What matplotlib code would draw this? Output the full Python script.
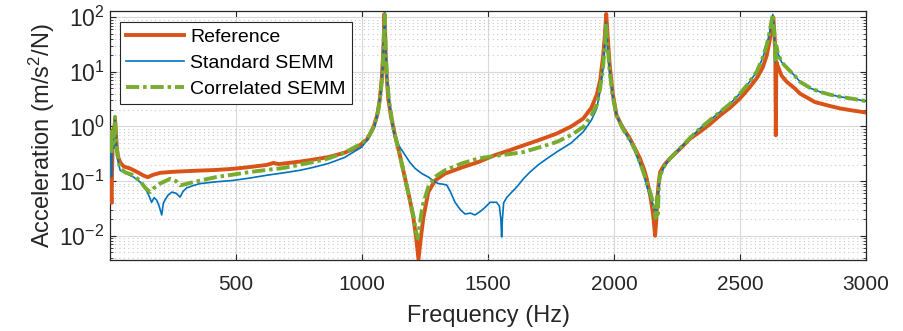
import matplotlib
matplotlib.use("Agg")
import matplotlib.pyplot as plt
from matplotlib.ticker import LogLocator, NullFormatter, FixedLocator

plt.rcParams['font.family'] = ['Liberation Sans', 'DejaVu Sans']
plt.rcParams['mathtext.fontset'] = 'custom'
plt.rcParams['mathtext.rm'] = 'Liberation Sans'
plt.rcParams['mathtext.it'] = 'Liberation Sans:italic'
plt.rcParams['mathtext.bf'] = 'Liberation Sans:bold'

# ---- measured FRF: Reference ----
freq_ref = [2, 4, 6, 8, 11, 14, 17, 20, 23, 27, 32, 40, 55, 80, 110, 135, 150, 170,
            200, 250, 300, 357, 420, 488, 550, 622, 648, 670, 754, 800, 866, 930, 980,
            1020, 1045, 1060, 1070, 1078, 1083, 1087, 1089, 1091, 1094, 1098, 1104,
            1115, 1131, 1150, 1171, 1190, 1204, 1215, 1224, 1232, 1243, 1263, 1290,
            1329, 1395, 1462, 1528, 1580, 1640, 1700, 1772, 1830, 1878, 1910, 1931,
            1945, 1957, 1964, 1969, 1974, 1983, 1995, 2010, 2035, 2063, 2085, 2103,
            2120, 2130, 2145, 2155, 2163, 2168, 2172, 2178, 2183, 2200, 2222, 2262,
            2302, 2341, 2380, 2421, 2460, 2500, 2535, 2566, 2590, 2606, 2618, 2627,
            2632, 2636, 2640, 2642, 2644, 2652, 2665, 2685, 2717, 2738, 2797, 2860,
            2897, 2950, 3000]
acc_ref = [0.22, 0.06, 0.04, 0.15, 0.55, 0.9, 0.8, 1.35, 0.8, 0.4, 0.28, 0.22, 0.185,
           0.17, 0.145, 0.125, 0.118, 0.13, 0.142, 0.148, 0.152, 0.156, 0.16, 0.168,
           0.18, 0.198, 0.215, 0.205, 0.228, 0.245, 0.275, 0.33, 0.41, 0.58, 0.95,
           1.6, 3.0, 7.0, 18, 50, 115, 60, 20, 8, 3.3, 1.5, 0.69, 0.3, 0.111, 0.045,
           0.021, 0.009, 0.0037, 0.008, 0.021, 0.063, 0.103, 0.137, 0.177, 0.224,
           0.30, 0.36, 0.45, 0.56, 0.74, 1.0, 1.4, 2.2, 3.75, 7.0, 20, 50, 115, 50,
           13, 4.0, 1.6, 0.95, 0.6, 0.38, 0.26, 0.16, 0.11, 0.05, 0.025, 0.01, 0.02,
           0.05, 0.1, 0.147, 0.2, 0.26, 0.39, 0.6, 0.8, 1.1, 1.6, 2.2, 3.26, 5.0,
           7.6, 12, 20, 38, 75, 100, 55, 25, 0.69, 15.3, 12, 8.5, 6.6, 5.0, 4.0, 2.8,
           2.35, 2.14, 1.95, 1.8]

# ---- Standard SEMM ----
freq_std = [2, 4, 6, 9, 12, 15, 18, 20, 22, 25, 30, 35, 40, 60, 93, 115, 132, 150,
            165, 175, 185, 195, 205, 212, 218, 230, 245, 262, 278, 290, 304, 330, 357,
            420, 488, 550, 622, 690, 754, 810, 866, 930, 999, 1030, 1050, 1065, 1075,
            1081, 1085, 1088, 1090, 1092, 1095, 1100, 1108, 1118, 1131, 1150, 1171,
            1190, 1211, 1240, 1263, 1285, 1303, 1320, 1336, 1350, 1369, 1390, 1409,
            1430, 1448, 1470, 1488, 1508, 1534, 1545, 1551, 1554, 1557, 1562, 1574,
            1590, 1614, 1640, 1667, 1700, 1740, 1772, 1830, 1878, 1910, 1931, 1945,
            1957, 1964, 1968, 1972, 1983, 1995, 2010, 2035, 2063, 2085, 2103, 2116,
            2130, 2145, 2160, 2167, 2175, 2183, 2200, 2222, 2262, 2302, 2341, 2380,
            2421, 2460, 2500, 2535, 2566, 2590, 2606, 2618, 2625, 2630, 2634, 2638,
            2641, 2644, 2650, 2665, 2685, 2717, 2738, 2780, 2817, 2860, 2897, 2950,
            3000]
acc_std = [0.8, 0.3, 0.12, 0.5, 0.7, 0.4, 0.9, 1.3, 0.7, 0.4, 0.25, 0.2, 0.158,
           0.14, 0.119, 0.1, 0.085, 0.06, 0.041, 0.05, 0.045, 0.035, 0.024, 0.04,
           0.045, 0.055, 0.063, 0.06, 0.051, 0.065, 0.075, 0.083, 0.09, 0.097, 0.103,
           0.113, 0.128, 0.142, 0.158, 0.18, 0.21, 0.27, 0.42, 0.65, 1.0, 2.0, 4.5,
           10, 25, 70, 120, 55, 20, 7.0, 3.0, 1.2, 0.6, 0.42, 0.30, 0.22, 0.17,
           0.135, 0.119, 0.1, 0.09, 0.088, 0.085, 0.065, 0.041, 0.03, 0.025, 0.026,
           0.024, 0.028, 0.033, 0.041, 0.041, 0.035, 0.02, 0.0095, 0.02, 0.04, 0.05,
           0.06, 0.078, 0.11, 0.147, 0.2, 0.27, 0.34, 0.5, 0.8, 1.3, 2.1, 4.5, 12,
           35, 80, 40, 10, 3.5, 1.6, 0.9, 0.55, 0.33, 0.2, 0.14, 0.08, 0.05, 0.03,
           0.025, 0.06, 0.12, 0.19, 0.26, 0.4, 0.62, 0.92, 1.3, 1.85, 2.6, 4.0, 6.3,
           10, 18, 31, 55, 85, 113, 70, 30, 15, 30, 22, 15, 12, 8.5, 6.6, 5.0, 4.3,
           3.8, 3.5, 3.2, 2.9]

# ---- Correlated SEMM ----
freq_cor = [2, 4, 6, 9, 12, 15, 18, 20, 22, 25, 30, 35, 40, 60, 93, 120, 140, 159,
            175, 198, 238, 262, 278, 300, 331, 380, 423, 490, 556, 620, 688, 754, 810,
            866, 930, 999, 1030, 1050, 1065, 1075, 1081, 1085, 1088, 1090, 1092, 1095,
            1100, 1107, 1118, 1131, 1150, 1171, 1190, 1205, 1214, 1221, 1228, 1240,
            1263, 1290, 1329, 1395, 1462, 1508, 1528, 1580, 1640, 1700, 1772, 1830,
            1878, 1910, 1931, 1945, 1957, 1964, 1968, 1972, 1983, 1995, 2010, 2035,
            2063, 2085, 2103, 2120, 2130, 2145, 2158, 2165, 2170, 2174, 2178, 2183,
            2200, 2222, 2262, 2302, 2341, 2380, 2421, 2460, 2500, 2535, 2566, 2590,
            2606, 2618, 2625, 2630, 2634, 2638, 2641, 2644, 2650, 2665, 2685, 2717,
            2738, 2780, 2817, 2860, 2897, 2950, 3000]
acc_cor = [0.5, 0.9, 0.35, 0.6, 0.8, 0.5, 1.0, 1.5, 0.9, 0.5, 0.3, 0.22, 0.17,
           0.145, 0.128, 0.1, 0.075, 0.063, 0.075, 0.09, 0.11, 0.1, 0.084, 0.088,
           0.096, 0.108, 0.119, 0.132, 0.147, 0.16, 0.174, 0.2, 0.225, 0.26, 0.33,
           0.49, 0.7, 1.1, 2.0, 4.5, 10, 25, 70, 110, 55, 18, 7.0, 3.0, 1.4, 0.69,
           0.3, 0.111, 0.045, 0.022, 0.012, 0.009, 0.015, 0.035, 0.078, 0.12, 0.158,
           0.21, 0.26, 0.28, 0.29, 0.31, 0.34, 0.41, 0.52, 0.7, 0.98, 1.6, 2.45, 5.0,
           13, 35, 80, 40, 10, 3.5, 1.6, 0.9, 0.57, 0.36, 0.22, 0.13, 0.096, 0.06,
           0.035, 0.021, 0.05, 0.025, 0.09, 0.128, 0.19, 0.26, 0.4, 0.62, 0.92, 1.3,
           1.85, 2.6, 4.0, 6.3, 10, 18, 31, 55, 85, 113, 70, 30, 15, 30, 22, 15, 12,
           8.5, 6.6, 5.0, 4.3, 3.8, 3.5, 3.2, 2.9]

x_ticks = [500, 1000, 1500, 2000, 2500, 3000]

c_ref = '#D95319'
c_std = '#0072BD'
c_cor = '#77AC30'
axis_col = '#262626'

fig = plt.figure(figsize=(9.04, 3.31), dpi=100)
ax = fig.add_axes([0.1217, 0.2145, 0.8363, 0.7523])

ax.plot(freq_ref, acc_ref, color=c_ref, lw=2.8, label='Reference',
        solid_joinstyle='round', zorder=3)
ax.plot(freq_std, acc_std, color=c_std, lw=1.2, label='Standard SEMM', zorder=4)
ax.plot(freq_cor, acc_cor, color=c_cor, lw=2.8, label='Correlated SEMM',
        dashes=(3.4, 1.0, 0.9, 1.0), dash_capstyle='butt', zorder=5)

ax.set_yscale('log')
ax.set_xlim(0, 3000)
ax.set_ylim(3.6e-3, 1.3e2)
ax.xaxis.set_major_locator(FixedLocator(x_ticks))
ax.yaxis.set_major_locator(LogLocator(base=10, numticks=10))
ax.yaxis.set_minor_locator(LogLocator(base=10, subs=range(2, 10), numticks=20))
ax.yaxis.set_minor_formatter(NullFormatter())

ax.grid(True, which='major', color='#d9d9d9', lw=0.8, ls='-', zorder=0)
ax.grid(True, which='minor', axis='y', color='#c8c8c8', lw=0.8, ls=(0, (1, 3)), zorder=0)
ax.set_axisbelow(True)

ax.tick_params(which='both', direction='in', top=True, right=True,
               colors=axis_col, labelcolor=axis_col)
ax.tick_params(which='major', length=4.5, width=0.8)
ax.tick_params(which='minor', length=2.5, width=0.6)
ax.tick_params(axis='x', pad=11, labelsize=15)
ax.tick_params(axis='y', pad=4, labelsize=16.5)
for s in ax.spines.values():
    s.set_color(axis_col)
    s.set_linewidth(0.9)

ax.set_xlabel('Frequency (Hz)', fontsize=17, color=axis_col, labelpad=8)
ax.set_ylabel('Acceleration (m/s$^2$/N)', fontsize=17, color=axis_col, labelpad=2)

leg = ax.legend(loc='upper left', bbox_to_anchor=(0.013, 0.957), borderaxespad=0,
                fontsize=14, frameon=True, fancybox=False, framealpha=1,
                edgecolor='#262626', handlelength=3.0, handletextpad=0.3,
                labelspacing=0.45, borderpad=0.32)
leg.get_frame().set_linewidth(0.8)
for t in leg.get_texts():
    t.set_color('black')

fig.savefig('out.png', dpi=100)
